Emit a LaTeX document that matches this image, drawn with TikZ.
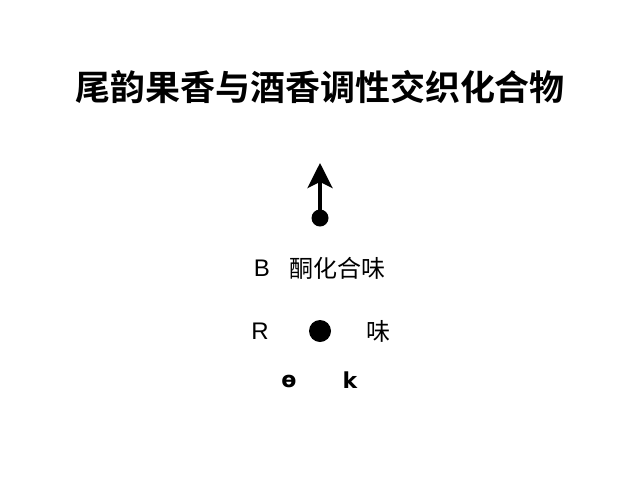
\documentclass[tikz,border=0pt]{standalone}
\usepackage{fontspec}
\setmainfont{DejaVu Sans}
\newfontfamily\cjk{Noto Sans CJK SC}
\newfontfamily\cjkbold{Noto Sans CJK SC Bold}
\newfontfamily\latinsans{Liberation Sans}
\usetikzlibrary{arrows.meta}
\begin{document}
\begin{tikzpicture}[x=1pt,y=-1pt,
  lbl/.style={inner sep=0pt,anchor=center},
  dotsmall/.style={circle,fill=black,inner sep=0pt,minimum size=17pt},
  dotbig/.style={circle,fill=black,inner sep=0pt,minimum size=22pt}]
\useasboundingbox (0,0) rectangle (640,480);
\node[lbl] (title) at (320,87) {\cjkbold\fontsize{35}{40}\selectfont 尾韵果香与酒香调性交织化合物};
\node[dotsmall] (d1) at (320,218) {};
\coordinate (tip) at (320,163);
\draw[line width=3.5pt,-{Stealth[length=25pt,width=25pt,inset=6pt]}] (d1.center) -- (tip);
\node[lbl] (B) at (262,268) {\latinsans\fontsize{24}{26}\selectfont B};
\node[lbl] (t1) at (337,268) {\cjk\fontsize{24}{26}\selectfont 酮化合味};
\node[lbl] (R) at (260,331) {\latinsans\fontsize{24}{26}\selectfont R};
\node[dotbig] (d2) at (320,331) {};
\node[lbl] (t2) at (378,331) {\cjk\fontsize{24}{26}\selectfont 味};
\node[lbl] (th) at (289,381) {\bfseries\fontsize{22}{24}\selectfont ɵ};
\node[lbl] (k) at (350,380) {\bfseries\fontsize{22}{24}\selectfont k};
\end{tikzpicture}
\end{document}
